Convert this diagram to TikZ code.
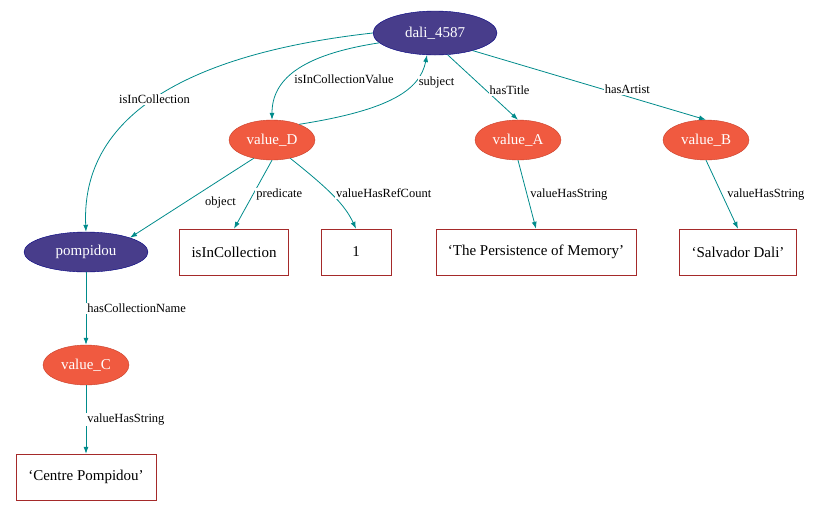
\documentclass[tikz,border=0pt]{standalone}
\usepackage{fontspec}
\setmainfont{Liberation Serif}
\usepackage{tikz}
\usetikzlibrary{shapes, shapes.geometric, arrows, arrows.meta}

\definecolor{uriFill}{HTML}{483D8B}
\definecolor{uriLine}{HTML}{000080}
\definecolor{valFill}{HTML}{F05A40}
\definecolor{valLine}{HTML}{C8402A}
\definecolor{litLine}{HTML}{A52A2A}
\definecolor{edgeCol}{HTML}{008B8B}

\begin{document}
\begin{tikzpicture}[
    x=1pt, y=-1pt,
    uriNode/.style={ellipse, draw=uriLine, fill=uriFill, text=white, font=\fontsize{15}{17}\selectfont, minimum width=124pt, minimum height=44pt, inner sep=0pt},
    valNode/.style={ellipse, draw=valLine, fill=valFill, text=white, font=\fontsize{15}{17}\selectfont, minimum width=86pt, minimum height=40pt, inner sep=0pt},
    litNode/.style={rectangle, draw=litLine, font=\fontsize{15}{17}\selectfont, minimum height=46pt, inner xsep=12pt},
    edge/.style={draw=edgeCol, thick, ->, >={Latex[length=7pt, width=5pt]}},
    lbl/.style={font=\fontsize{12.5}{14}\selectfont, fill=white, inner sep=1pt},
    every node/.style={
        text centered,
        }
        ]
    \useasboundingbox (0, 0) rectangle (832, 507);

    \node[uriNode, minimum width=124pt] (dali) at (435, 33) {dali\_4587};
    \node[valNode] (valueD) at (272, 140) {value\_D};
    \node[valNode] (valueA) at (518, 140) {value\_A};
    \node[valNode] (valueB) at (706, 140) {value\_B};
    \node[uriNode, minimum height=40pt] (pompidou) at (86, 252) {pompidou};
    \node[litNode] (isColl) at (234, 252) {isInCollection};
    \node[litNode, minimum width=70pt] (refCount) at (356, 252) {1};
    \node[litNode] (title) at (536, 252) {`The Persistence of Memory'};
    \node[litNode] (artist) at (738, 252) {`Salvador Dali'};
    \node[valNode] (valueC) at (86, 365) {value\_C};
    \node[litNode] (centre) at (86, 477) {`Centre Pompidou'};

    \draw[edge] (dali.west) .. controls (220, 50) and (80, 100) .. node[lbl, pos=0.55] {isInCollection} (pompidou.north);
    \draw[edge] (dali.190) .. controls (300, 55) and (272, 80) .. node[lbl, pos=0.6, right, xshift=6pt] {isInCollectionValue} (valueD.north);
    \draw[edge] (valueD.30) .. controls (390, 110) and (420, 90) .. node[lbl, pos=0.7, right, xshift=4pt] {subject} (dali.250);
    \draw[edge] (dali.300) -- node[lbl, pos=0.55, right, xshift=2pt] {hasTitle} (valueA.north);
    \draw[edge] (dali.335) -- node[lbl, pos=0.5, right, xshift=14pt, yshift=-4pt] {hasArtist} (valueB.north);
    \draw[edge] (valueD.225) -- node[lbl, pos=0.5, right, xshift=12pt, yshift=-4pt] {object} (pompidou.north east);
    \draw[edge] (valueD.south) -- node[lbl, pos=0.5, right, xshift=2pt] {predicate} (isColl.north);
    \draw[edge] (valueD.315) .. controls (330, 190) and (345, 205) .. node[lbl, pos=0.45, right, xshift=4pt] {valueHasRefCount} (refCount.north);
    \draw[edge] (valueA.south) -- node[lbl, pos=0.5, right, xshift=2pt] {valueHasString} (title.north);
    \draw[edge] (valueB.south) -- node[lbl, pos=0.5, right, xshift=4pt] {valueHasString} (artist.north);
    \draw[edge] (pompidou.south) -- node[lbl, pos=0.5, right] {hasCollectionName} (valueC.north);
    \draw[edge] (valueC.south) -- node[lbl, pos=0.5, right] {valueHasString} (centre.north);
\end{tikzpicture}
\end{document}
